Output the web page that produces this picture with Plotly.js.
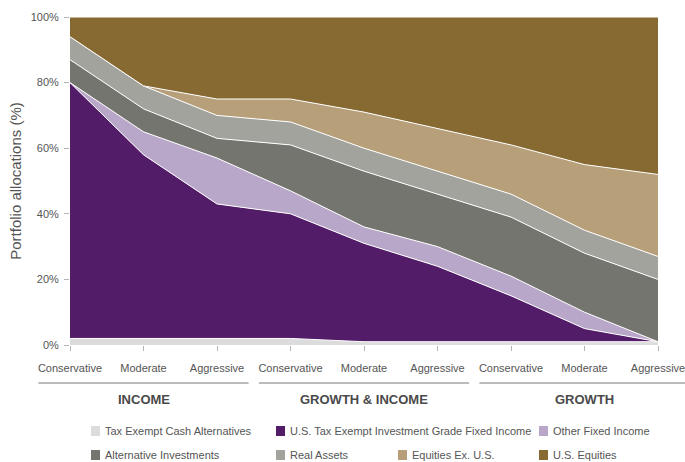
<!DOCTYPE html>
<html>
<head>
<meta charset="utf-8">
<script src="https://cdn.plot.ly/plotly-3.0.1.min.js"></script>
<style>
  html, body { margin: 0; padding: 0; background: #fff; }
  #chart { width: 685px; height: 462px; }
</style>
</head>
<body>
<div id="chart"></div>
<script>
// Portfolio profiles along the x axis
const tickLabels = ['Conservative', 'Moderate', 'Aggressive',
                    'Conservative', 'Moderate', 'Aggressive',
                    'Conservative', 'Moderate', 'Aggressive'];
const groups = ['INCOME', 'GROWTH & INCOME', 'GROWTH'];
const yTicks = [0, 20, 40, 60, 80, 100];

// Allocation (%) per asset class, one value per profile
const cashAlt     = [2, 2, 2, 2, 1, 1, 1, 1, 1];
const taxExemptFI = [78, 56, 41, 38, 30, 23, 14, 4, 0];
const otherFI     = [0, 7, 14, 7, 5, 6, 6, 5, 0];
const altInv      = [7, 7, 6, 14, 17, 16, 18, 18, 19];
const realAssets  = [7, 7, 7, 7, 7, 7, 7, 7, 7];
const eqExUS      = [0, 0, 5, 7, 11, 13, 15, 20, 25];
const usEquities  = [6, 21, 25, 25, 29, 34, 39, 45, 48];

const seriesNames = ['Tax Exempt Cash Alternatives',
                     'U.S. Tax Exempt Investment Grade Fixed Income',
                     'Other Fixed Income', 'Alternative Investments',
                     'Real Assets', 'Equities Ex. U.S.', 'U.S. Equities'];
const seriesValues = [cashAlt, taxExemptFI, otherFI, altInv, realAssets, eqExUS, usEquities];
const seriesColors = ['#dcdcdd', '#521c68', '#b8a7c9', '#74756e', '#a2a39c', '#b7a079', '#876932'];

const xIdx = tickLabels.map((_, i) => i);
const FONT = '"Liberation Sans", Arial, sans-serif';
const TEXT = '#555555';

const traces = seriesValues.map((vals, k) => ({
  type: 'scatter',
  mode: 'lines',
  x: xIdx,
  y: vals,
  name: seriesNames[k],
  stackgroup: 'alloc',
  fillcolor: seriesColors[k],
  line: { color: '#ffffff', width: 1 },
  hoverinfo: 'skip',
  showlegend: false
}));

const span = tickLabels.length - 1;
const plotL = 70, plotW = 588, plotT = 17, plotH = 328;
const toPX = v => (v - plotL) / plotW;
const toPY = v => (plotT + plotH - v) / plotH;
const shapes = [];
const annotations = [];

// group underlines and labels below the profile ticks
groups.forEach((g, gi) => {
  const c = gi * 3 + 1;
  shapes.push({
    type: 'line', xref: 'paper', yref: 'paper',
    x0: (c - 1.43) / span, x1: (c + 1.43) / span,
    y0: toPY(383), y1: toPY(383),
    line: { color: '#a6a6a6', width: 1.5 }
  });
  annotations.push({
    xref: 'paper', yref: 'paper', x: c / span, y: toPY(399),
    text: '<b>' + g.replace('&', '&amp;') + '</b>', showarrow: false,
    xanchor: 'center', yanchor: 'middle',
    font: { family: FONT, size: 13, color: '#4a4a4a' }
  });
});

// legend: swatch + label, laid out in two rows
const legendPos = [
  [91, 431], [276, 431], [539, 431],
  [91, 455], [276, 455], [398, 455], [539, 455]
];
seriesNames.forEach((name, k) => {
  const [px, py] = legendPos[k];
  shapes.push({
    type: 'rect', xref: 'paper', yref: 'paper',
    x0: toPX(px), x1: toPX(px + 9),
    y0: toPY(py - 5), y1: toPY(py + 5),
    fillcolor: seriesColors[k], line: { width: 0 }
  });
  annotations.push({
    xref: 'paper', yref: 'paper', x: toPX(px + 12), y: toPY(py),
    text: name, showarrow: false,
    xanchor: 'left', yanchor: 'middle',
    font: { family: FONT, size: 11, color: TEXT }
  });
});

const layout = {
  width: 685, height: 462,
  margin: { l: plotL, r: 685 - plotL - plotW, t: plotT, b: 462 - plotT - plotH },
  paper_bgcolor: '#ffffff', plot_bgcolor: '#ffffff',
  font: { family: FONT, size: 11, color: TEXT },
  xaxis: {
    range: [0, span], tickmode: 'array', tickvals: xIdx, ticktext: tickLabels,
    showgrid: false, zeroline: false, showline: false,
    ticks: 'outside', ticklen: 5, tickcolor: '#b5b5b5', tickwidth: 1,
    ticklabelstandoff: 8, ticklabeloverflow: 'allow',
    tickfont: { family: FONT, size: 11, color: TEXT },
    fixedrange: true
  },
  yaxis: {
    range: [0, 100], tickmode: 'array', tickvals: yTicks,
    ticktext: yTicks.map(v => v + '%'),
    showgrid: false, zeroline: false, showline: false,
    ticks: 'outside', ticklen: 5, tickcolor: '#b5b5b5', tickwidth: 1,
    ticklabelstandoff: 3,
    tickfont: { family: FONT, size: 11, color: TEXT },
    title: { text: 'Portfolio allocations (%)', standoff: 5,
             font: { family: FONT, size: 15, color: TEXT } },
    fixedrange: true
  },
  shapes: shapes,
  annotations: annotations,
  showlegend: false
};

Plotly.newPlot('chart', traces, layout, { displayModeBar: false, staticPlot: true });
</script>
</body>
</html>
